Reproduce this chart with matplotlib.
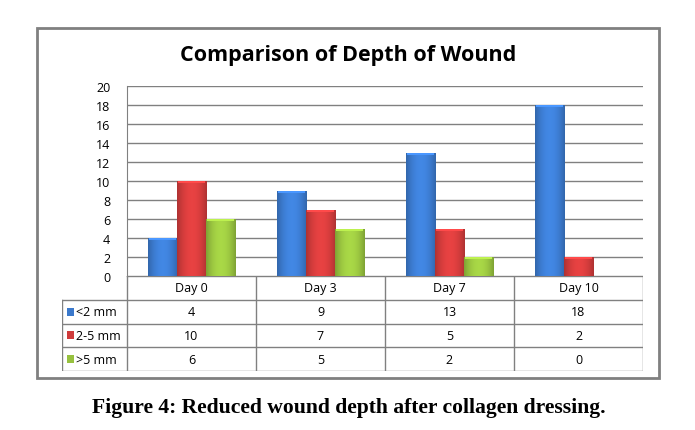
import matplotlib.pyplot as plt
import numpy as np
from matplotlib.patches import Rectangle
from matplotlib.colors import to_rgb

# Data
days = ["Day 0", "Day 3", "Day 7", "Day 10"]
series = ["<2 mm", "2-5 mm", ">5 mm"]
lt2 = [4, 9, 13, 18]
mid = [10, 7, 5, 2]
gt5 = [6, 5, 2, 0]
yticks = list(range(0, 21, 2))

colors = ["#3b79cc", "#cf3b3b", "#97c13f"]

W, H = 695, 431
fig = plt.figure(figsize=(W / 100, H / 100), dpi=100)


def fx(px):
    return px / W


def fy(py):
    return 1 - py / H


# outer chart border
fig.add_artist(Rectangle((fx(37), fy(379)), fx(659) - fx(37), fy(29) - fy(379),
                         transform=fig.transFigure, fill=False,
                         edgecolor="#808080", linewidth=2))

# main bar axes
ax = fig.add_axes([fx(127), fy(277), fx(643) - fx(127), fy(87) - fy(277)])
x = np.arange(len(days))
w = 0.225


def shaded_bar(ax, xc, h, color):
    if h <= 0:
        return
    r = ax.bar(xc, h, w, color=color, edgecolor="none", zorder=3)[0]
    # horizontal shading: darker edges, lighter middle
    base = np.array(to_rgb(color))
    t = np.linspace(-1, 1, 60)
    f = 1.12 - 0.28 * t ** 2
    img = np.clip(base[None, :] * f[:, None], 0, 1)[None, :, :]
    im = ax.imshow(img, extent=(xc - w / 2, xc + w / 2, 0, h), aspect="auto",
                   zorder=4, interpolation="bilinear")
    im.set_clip_path(r)
    # light bevel at the top
    ax.bar(xc, 0.22, w * 0.9, bottom=h - 0.25,
           color=np.clip(base * 1.25, 0, 1), edgecolor="none", zorder=5)


for i, vals in enumerate([lt2, mid, gt5]):
    for xi, v in zip(x, vals):
        shaded_bar(ax, xi + (i - 1) * w, v, colors[i])

ax.set_xlim(-0.5, 3.5)
ax.set_ylim(0, 20)
ax.set_yticks(yticks)
ax.set_yticklabels([str(t) for t in yticks], fontsize=9, fontfamily="Open Sans")
ax.tick_params(axis="y", length=0, pad=12)
ax.set_xticks([])
ax.grid(axis="y", color="#808080", linewidth=1.0, zorder=0)
for s in ["top", "right", "bottom"]:
    ax.spines[s].set_visible(False)
ax.spines["left"].set_color("#808080")

# data table below the axes
tx0 = -0.5 - 65 / 129
tax = fig.add_axes([fx(62), fy(372), fx(643) - fx(62), fy(277) - fy(372)])
tax.set_xlim(tx0, 3.5)
tax.set_ylim(4, 0)
tax.axis("off")
lc = "#808080"
# horizontal lines
tax.plot([-0.5, 3.5], [0, 0], color=lc, lw=1)
for yy in [1, 2, 3, 4]:
    tax.plot([tx0, 3.5], [yy, yy], color=lc, lw=1)
# vertical lines
tax.plot([tx0, tx0], [1, 4], color=lc, lw=1)
for xx in [-0.5, 0.5, 1.5, 2.5, 3.5]:
    tax.plot([xx, xx], [0, 4], color=lc, lw=1)

tfont = dict(fontsize=9, fontfamily="Open Sans", va="center")
for xi, d in zip(x, days):
    tax.text(xi, 0.5, d, ha="center", **tfont)
for r, (name, vals) in enumerate(zip(series, [lt2, mid, gt5])):
    yy = r + 1.5
    tax.add_patch(Rectangle((tx0 + 0.04, yy - 0.17), 0.055, 0.34,
                            facecolor=colors[r], edgecolor="none"))
    tax.text(tx0 + 0.11, yy, name, ha="left", **tfont)
    for xi, v in zip(x, vals):
        tax.text(xi, yy, str(v), ha="center", **tfont)

fig.text(fx(348), fy(55), "Comparison of Depth of Wound", ha="center",
         va="center", fontsize=15.5, fontweight="bold", fontfamily="Open Sans")
fig.text(fx(349), fy(408), "Figure 4: Reduced wound depth after collagen dressing.",
         ha="center", va="center", fontsize=15.6, fontweight="bold",
         fontfamily="Liberation Serif")

fig.savefig("out.png", dpi=100)
